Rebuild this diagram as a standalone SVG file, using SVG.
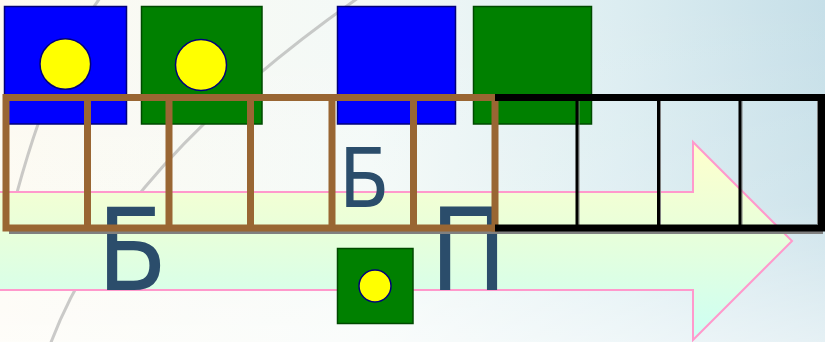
<svg xmlns="http://www.w3.org/2000/svg" width="825" height="342" viewBox="0 0 825 342">
<defs>
<linearGradient id="bg" x1="0" y1="0" x2="825" y2="0" gradientUnits="userSpaceOnUse">
<stop offset="0" stop-color="#fdfaf1"/>
<stop offset="0.45" stop-color="#f3f9f7"/>
<stop offset="0.75" stop-color="#dcedf1"/>
<stop offset="1" stop-color="#c6dfe8"/>
</linearGradient>
<linearGradient id="bgv" x1="0" y1="0" x2="0" y2="342" gradientUnits="userSpaceOnUse">
<stop offset="0" stop-color="#ffffff" stop-opacity="0"/>
<stop offset="0.6" stop-color="#ffffff" stop-opacity="0.15"/>
<stop offset="1" stop-color="#ffffff" stop-opacity="0.55"/>
</linearGradient>
<linearGradient id="arrowFill" x1="0" y1="142" x2="0" y2="340" gradientUnits="userSpaceOnUse">
<stop offset="0" stop-color="#ffffcc"/>
<stop offset="0.5" stop-color="#e6ffdc"/>
<stop offset="1" stop-color="#ccfff4"/>
</linearGradient>
<style>
.arc{fill:none;stroke:#a8a8a8;stroke-width:3;stroke-opacity:0.6}
.blue{fill:#0000ff;stroke:#00007a;stroke-width:1.5}
.green{fill:#008000;stroke:#004a00;stroke-width:1.5}
.dot{fill:#ffff00;stroke:#00007a;stroke-width:1.5}
.brown{fill:none;stroke:#996633;stroke-width:7}
.blk{fill:none;stroke:#000000;stroke-width:7}
.thin{fill:none;stroke:#000000;stroke-width:3}
.shadow{fill:none;stroke:#808080}
.letter{font-family:"DejaVu Sans",Verdana,sans-serif;fill:#2b4d6b}
</style>
</defs>
<rect x="0" y="0" width="825" height="342" fill="url(#bg)"/>
<rect x="0" y="0" width="825" height="342" fill="url(#bgv)"/>
<path class="arc" d="M 100 -2 Q 40 80 0 262"/>
<path class="arc" d="M 50 345 Q 116 168 358 -2"/>
<path id="arrow" d="M -5 192 H 693 V 142 L 792 241 L 693 340 V 290 H -5 Z" fill="url(#arrowFill)" stroke="#ff99cc" stroke-width="2"/>
<g id="square-blue-1"><rect class="blue" x="4.5" y="6.5" width="122" height="117.5"/><circle class="dot" cx="65.3" cy="64" r="25.3"/></g>
<g id="square-green-1"><rect class="green" x="141.5" y="6.5" width="120.5" height="117.5"/><circle class="dot" cx="201" cy="65" r="25.5"/></g>
<g id="square-blue-2"><rect class="blue" x="337.5" y="6.5" width="118" height="117.5"/></g>
<g id="square-green-2"><rect class="green" x="473.5" y="6.5" width="118" height="117.5"/></g>
<g id="square-green-small"><rect class="green" x="337.5" y="248.5" width="75.5" height="75"/><circle class="dot" cx="375" cy="286" r="16"/></g>
<g id="letters">
<text class="letter" transform="translate(97,290) scale(0.9,1)" font-size="114">Б</text>
<text class="letter" transform="translate(339,207) scale(0.9,1)" font-size="82">Б</text>
<text class="letter" transform="translate(430,290) scale(0.9,1)" font-size="114">П</text>
</g>
<g id="grid-shadow">
<path class="shadow" stroke-width="3" d="M 9 232.5 H 823"/>
<path class="shadow" stroke-width="1" d="M 579 100 V 232 M 660.5 100 V 232 M 742 100 V 232 M 817.5 101 V 224"/>
</g>
<g id="grid-brown">
<path class="brown" d="M 495 97.5 H 6 V 228 H 495"/>
<path class="brown" d="M 87.5 97.5 V 228 M 169 97.5 V 228 M 250.5 97.5 V 228 M 332 97.5 V 228 M 413.5 97.5 V 228 M 495 94 V 231.5"/>
</g>
<g id="grid-black">
<path class="blk" d="M 495 97.5 H 821.5 V 228 H 495"/>
<path class="thin" d="M 577 97.5 V 228 M 658.5 97.5 V 228 M 740 97.5 V 228"/>
</g>
</svg>
